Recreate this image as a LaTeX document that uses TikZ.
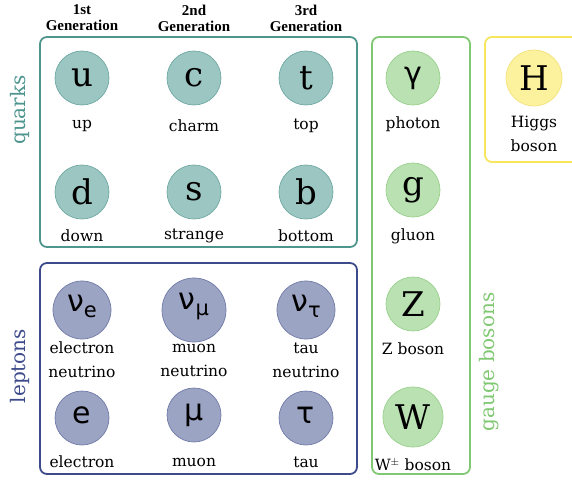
\documentclass[tikz,border=0pt]{standalone}
\usepackage{fontspec}
\setmainfont{DejaVu Serif}
\newfontfamily\hdfont{Liberation Serif}
\newfontfamily\grfont{DejaVu Sans}
\definecolor{qline}{HTML}{4E958E}
\definecolor{qfill}{HTML}{9CC6C2}
\definecolor{qcirc}{HTML}{6FA9A3}
\definecolor{lline}{HTML}{3E4B8B}
\definecolor{lfill}{HTML}{9CA4C3}
\definecolor{lcirc}{HTML}{707BA9}
\definecolor{gline}{HTML}{80C872}
\definecolor{gfill}{HTML}{B9E1B2}
\definecolor{gcirc}{HTML}{98D08C}
\definecolor{hline}{HTML}{F7E55C}
\definecolor{hfill}{HTML}{FCF19C}
\definecolor{hcirc}{HTML}{F3E27E}
\tikzset{
  grp/.style={draw, line width=1.8pt, rounded corners=7pt},
  part/.style={circle, inner sep=0pt, line width=0.7pt, font=\fontsize{34}{34}\selectfont},
  qpart/.style={part, draw=qcirc, fill=qfill, minimum size=54pt},
  lpart/.style={part, draw=lcirc, fill=lfill, minimum size=56pt},
  gpart/.style={part, draw=gcirc, fill=gfill, minimum size=54pt},
  hpart/.style={part, draw=hcirc, fill=hfill, minimum size=56pt},
  lbl/.style={font=\fontsize{15.5}{24}\selectfont, align=center},
  hdr/.style={font=\hdfont\bfseries\fontsize{15}{16}\selectfont, align=center},
  side/.style={font=\fontsize{20}{20}\selectfont, rotate=90},
  greek/.style={font=\grfont\fontsize{30}{30}\selectfont}
}
\begin{document}
\begin{tikzpicture}[x=1pt,y=-1pt]
\useasboundingbox (0,0) rectangle (572,481);
% group boxes
\draw[grp, qline] (40,37) rectangle (357,247);
\draw[grp, lline] (40,263) rectangle (357,474);
\draw[grp, gline] (372,37) rectangle (470,474);
\draw[grp, hline] (485,37) rectangle (590,162);
% headers
\node[hdr] (h1) at (82,18) {1st\\Generation};
\node[hdr] (h2) at (194,18) {2nd\\Generation};
\node[hdr] (h3) at (306,18) {3rd\\Generation};
% side labels
\node[side, text=qline] (sq) at (20,110) {quarks};
\node[side, text=lline] (sl) at (20,366) {leptons};
\node[side, text=gline] (sg) at (489,362) {gauge bosons};
% quarks
\node[qpart] (u) at (82,78) {u};
\node[qpart] (c) at (194,78) {c};
\node[qpart] (t) at (306,78) {t};
\node[qpart] (d) at (82,192) {d};
\node[qpart] (s) at (194,192) {s};
\node[qpart] (b) at (306,192) {b};
\node[lbl] (lu) at (82,126) {up};
\node[lbl] (lc) at (194,126) {charm};
\node[lbl] (lt) at (306,126) {top};
\node[lbl] (ld) at (82,236) {down};
\node[lbl] (ls) at (194,236) {strange};
\node[lbl] (lb) at (306,236) {bottom};
% leptons
\node[lpart, minimum size=58pt] (ne) at (82,310) {};
\node[lpart, minimum size=64pt] (nm) at (194,310) {};
\node[lpart, minimum size=58pt] (nt) at (306,310) {};
\node[greek] (gne) at (82,306) {ν\raisebox{-6pt}{\fontsize{21}{21}\selectfont e}};
\node[greek] (gnm) at (194,306) {ν\raisebox{-6pt}{\fontsize{21}{21}\selectfont μ}};
\node[greek] (gnt) at (306,306) {ν\raisebox{-6pt}{\fontsize{21}{21}\selectfont τ}};
\node[lpart, minimum size=54pt] (e) at (82,418) {};
\node[lpart, minimum size=54pt] (mu) at (194,415) {};
\node[lpart, minimum size=54pt] (tau) at (306,418) {};
\node[greek] (ge) at (82,415) {e};
\node[greek] (gmu) at (194,415) {μ};
\node[greek] (gtau) at (306,415) {τ};
\node[lbl] (lne) at (82,360) {electron\\neutrino};
\node[lbl] (lnm) at (194,360) {muon\\neutrino};
\node[lbl] (lnt) at (306,360) {tau\\neutrino};
\node[lbl] (le) at (82,462) {electron};
\node[lbl] (lmu) at (194,462) {muon};
\node[lbl] (ltau) at (306,462) {tau};
% gauge bosons
\node[gpart] (gam) at (413,78) {};
\node[greek] (ggam) at (413,78) {γ};
\node[gpart] (g) at (413,190) {g};
\node[gpart] (z) at (413,304) {Z};
\node[gpart, minimum size=60pt] (w) at (413,417) {W};
\node[lbl] (lgam) at (413,124) {photon};
\node[lbl] (lg) at (413,236) {gluon};
\node[lbl] (lz) at (413,349) {Z boson};
\node[lbl] (lw) at (413,465) {W$^{\pm}$ boson};
% higgs
\node[hpart] (H) at (534,78) {H};
\node[lbl] (lH) at (534,134) {Higgs\\boson};
\end{tikzpicture}
\end{document}
